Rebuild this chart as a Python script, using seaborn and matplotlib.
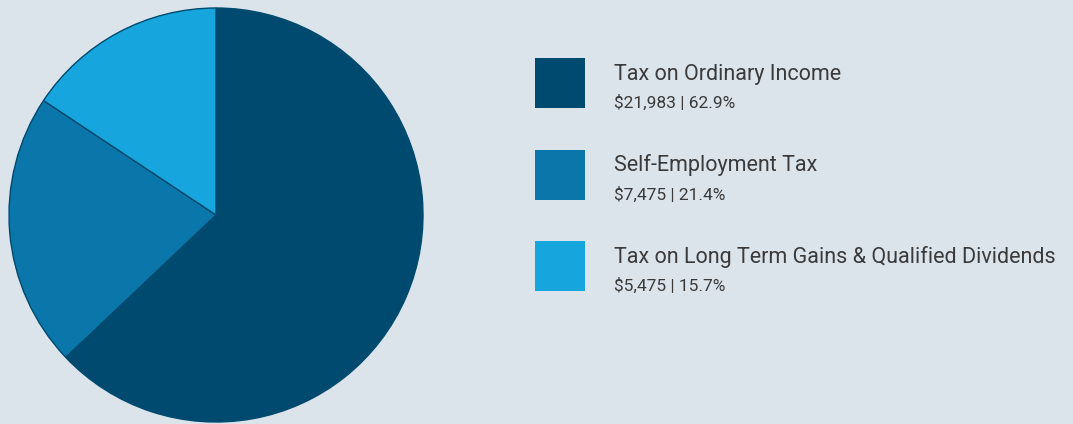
import matplotlib.pyplot as plt
import seaborn as sns
from matplotlib.patches import Rectangle

# data
categories = [
    "Tax on Ordinary Income",
    "Self-Employment Tax",
    "Tax on Long Term Gains & Qualified Dividends",
]
amounts = [21983, 7475, 5475]
shares = [62.9, 21.4, 15.7]
colors = ["#004a6f", "#0a76a9", "#17a5de"]

bg = "#dce4eb"

sns.set_theme(style="white")
plt.rcParams["font.family"] = ["Roboto", "DejaVu Sans"]

W, H = 1073, 424
fig = plt.figure(figsize=(W / 100, H / 100), dpi=100)
fig.patch.set_facecolor(bg)

# pie: centre ~ (216, 215), radius ~ 208 px
cx, cy, r = 216, 215, 207
ax = fig.add_axes([(cx - r) / W, (H - cy - r) / H, 2 * r / W, 2 * r / H])
ax.set_facecolor(bg)
ax.pie(
    amounts,
    colors=colors,
    startangle=90,
    counterclock=False,
    radius=1.0,
    wedgeprops={"edgecolor": "#004a6f", "linewidth": 1.0},
)
ax.set_xlim(-1.0, 1.0)
ax.set_ylim(-1.0, 1.0)
ax.set_aspect("equal")
ax.axis("off")

# legend block
sq_x, sq_top, sq_size, step = 535, 58, 50, 91.5
text_x = 614
for i, (name, amt, pct, col) in enumerate(zip(categories, amounts, shares, colors)):
    top = sq_top + i * step
    fig.add_artist(Rectangle(
        (sq_x / W, (H - top - sq_size) / H),
        sq_size / W, sq_size / H,
        transform=fig.transFigure, facecolor=col, edgecolor="none",
    ))
    fig.text(text_x / W, (H - top - 22) / H, name,
             fontsize=15.5, color="#3a3a3a", va="baseline", ha="left")
    fig.text(text_x / W, (H - top - 50) / H, f"${amt:,} | {pct}%",
             fontsize=12.5, color="#3a3a3a", va="baseline", ha="left")

fig.savefig("out.png", dpi=100, facecolor=bg)
